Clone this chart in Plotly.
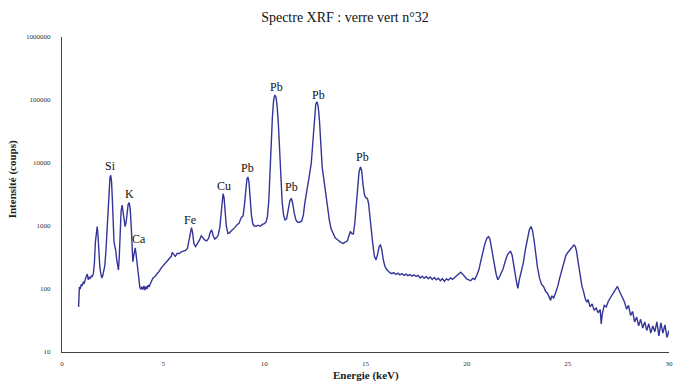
import math
import plotly.graph_objects as go

# Spectrum: energy (keV) and counts
energy_kev = [
    0.82, 0.84, 0.86, 0.90, 0.95, 1.00, 1.05, 1.10, 1.15, 1.20, 1.25, 1.30, 1.35, 1.40, 1.45, 1.50,
    1.55, 1.60, 1.65, 1.70, 1.74, 1.78, 1.82, 1.87, 1.92, 1.97, 2.02, 2.07, 2.12, 2.17, 2.22, 2.27,
    2.32, 2.37, 2.41, 2.45, 2.49, 2.53, 2.57, 2.61, 2.65, 2.70, 2.75, 2.79, 2.83, 2.87, 2.92, 2.97,
    3.02, 3.07, 3.12, 3.17, 3.22, 3.27, 3.32, 3.37, 3.42, 3.46, 3.50, 3.54, 3.58, 3.62, 3.66, 3.70,
    3.75, 3.80, 3.85, 3.90, 3.95, 4.00, 4.05, 4.10, 4.15, 4.20, 4.25, 4.30, 4.35,
    4.4, 4.5, 4.6, 4.7, 4.8, 4.9, 5.0, 5.1, 5.2, 5.3, 5.4, 5.45, 5.5, 5.6, 5.7, 5.8, 5.9, 6.0,
    6.1, 6.2, 6.28, 6.35, 6.4, 6.45, 6.52, 6.6, 6.7, 6.8, 6.88, 6.95, 7.05, 7.15, 7.25, 7.33,
    7.4, 7.47, 7.55, 7.65, 7.72, 7.8, 7.86, 7.91, 7.96, 8.01, 8.06, 8.12, 8.2, 8.28, 8.36, 8.45,
    8.55, 8.65, 8.75, 8.85, 8.95, 9.02, 9.08, 9.14, 9.19, 9.24, 9.3, 9.36, 9.43, 9.5, 9.6, 9.7,
    9.8, 9.9, 10.0, 10.08, 10.15, 10.22, 10.28, 10.34, 10.4, 10.46, 10.52, 10.58, 10.64, 10.7,
    10.76, 10.82, 10.88, 10.95, 11.02, 11.1, 11.18, 11.26, 11.33, 11.4, 11.48, 11.56, 11.65,
    11.75, 11.85, 11.93, 12.0, 12.08, 12.16, 12.24, 12.32, 12.4, 12.47, 12.54, 12.6, 12.66,
    12.72, 12.79, 12.86, 12.92, 12.98, 13.06, 13.14, 13.22, 13.3, 13.4, 13.5, 13.6, 13.7, 13.8,
    13.9, 14.0, 14.1, 14.18, 14.25, 14.32, 14.4, 14.47, 14.54, 14.61, 14.68, 14.75, 14.81,
    14.88, 14.95, 15.02, 15.09, 15.15, 15.22, 15.28, 15.36, 15.44, 15.52, 15.6, 15.68, 15.74,
    15.8, 15.88, 15.96, 16.04, 16.12, 16.2,
    16.3, 16.4, 16.5, 16.6, 16.7, 16.8, 16.9, 17.0, 17.1, 17.2, 17.3, 17.4, 17.5, 17.6, 17.7,
    17.8, 17.9, 18.0, 18.1, 18.2, 18.3, 18.4, 18.5, 18.6, 18.7, 18.8, 18.9, 19.0, 19.1, 19.2,
    19.3, 19.4, 19.5, 19.6, 19.7, 19.8, 19.9, 20.0, 20.1, 20.2, 20.3, 20.4, 20.5, 20.6, 20.7,
    20.8, 20.9, 21.0, 21.08, 21.15, 21.22, 21.3, 21.38, 21.46, 21.54, 21.62, 21.7, 21.8, 21.9,
    22.0, 22.1, 22.17, 22.25, 22.33, 22.41, 22.48, 22.53, 22.6, 22.7, 22.8, 22.9, 23.0, 23.1,
    23.18, 23.25, 23.33, 23.41, 23.5, 23.6, 23.7, 23.8, 23.9, 24.0, 24.1, 24.15, 24.2, 24.3,
    24.4, 24.5, 24.6, 24.7, 24.8, 24.9, 25.0, 25.1, 25.2, 25.3, 25.36, 25.43, 25.5, 25.56,
    25.62, 25.7, 25.78, 25.86, 25.94, 26.0, 26.1, 26.2, 26.3, 26.4, 26.5, 26.6, 26.65, 26.7,
    26.8, 26.9, 27.0, 27.1, 27.2, 27.3, 27.4, 27.45, 27.5, 27.6, 27.7, 27.8, 27.9, 28.0, 28.1,
    28.2, 28.3, 28.4, 28.5, 28.6, 28.7, 28.8, 28.9, 29.0, 29.1, 29.2, 29.3, 29.4, 29.5, 29.6,
    29.7, 29.8, 29.9, 30.0,
]

counts = [
    52, 95, 108, 100, 118, 112, 130, 125, 150, 160, 172, 140, 155, 148, 160, 158,
    175, 250, 560, 920, 980, 700, 380, 220, 175, 150, 165, 210, 240, 400, 900, 1800,
    3600, 5800, 6400, 5000, 2600, 1000, 560, 480, 420, 300, 230, 200, 320, 800, 1700, 2150,
    1700, 1150, 980, 1150, 1700, 2200, 2350, 1900, 1000, 560, 270, 330, 440, 450, 360, 280,
    190, 130, 105, 100, 108, 98, 112, 96, 110, 100, 115, 108, 122,
    128, 150, 158, 175, 190, 215, 235, 255, 270, 300, 330, 380, 360, 330, 370, 365, 390, 395,
    410, 440, 600, 880, 940, 800, 520, 470, 520, 600, 700, 650, 600, 580, 640, 800,
    870, 700, 620, 660, 720, 950, 1700, 2700, 3250, 2800, 1700, 1000, 760, 780, 830, 880,
    950, 1050, 1100, 1350, 1450, 2200, 3800, 5600, 6000, 5000, 2800, 1500, 1080, 1000, 990, 1030,
    990, 1060, 1090, 1150, 1400, 2500, 7000, 22000, 55000, 100000, 120000, 110000, 75000, 38000,
    14000, 5000, 2400, 1500, 1250, 1300, 1700, 2500, 2750, 2300, 1600, 1250, 1150,
    1150, 1200, 1500, 2300, 3500, 5000, 6800, 10000, 22000, 50000, 85000, 94000, 80000,
    50000, 20000, 8500, 6200, 4500, 2800, 1700, 1200, 900, 740, 650, 610, 570, 545,
    530, 555, 580, 700, 820, 760, 750, 1100, 2000, 4200, 7200, 8700, 7500,
    4500, 3100, 2800, 2750, 2300, 1300, 800, 520, 330, 290, 360, 480, 500,
    430, 290, 230, 205, 190, 182,
    175, 182, 170, 178, 168, 176, 165, 172, 163, 170, 160, 168, 158, 164, 150,
    160, 148, 158, 145, 155, 142, 152, 140, 148, 135, 146, 132, 145, 138, 150,
    142, 152, 160, 175, 185, 172, 158, 145, 140, 136, 148, 142, 165, 200, 280,
    400, 520, 640, 680, 620, 480, 330, 235, 170, 140, 155, 175, 210, 270,
    340, 380, 395, 340, 250, 165, 120, 102, 140, 190, 260, 420, 650, 880,
    980, 860, 600, 360, 220, 150, 118, 110, 92, 85, 70, 66, 78, 72,
    88, 110, 150, 200, 270, 340, 380, 420, 470, 500, 480, 400, 280, 200,
    150, 110, 90, 70, 62, 68, 52, 58, 46, 50, 42, 47, 28, 40,
    55, 52, 64, 72, 85, 92, 105, 110, 100, 85, 70, 62, 48, 55, 38,
    44, 30, 36, 26, 33, 24, 30, 22, 28, 20, 26, 21, 30, 18, 29,
    20, 27, 17, 22,
]

# Peak labels
label_text = ["Si", "K", "Ca", "Fe", "Cu", "Pb", "Pb", "Pb", "Pb", "Pb"]
label_energy = [2.38, 3.33, 3.80, 6.31, 8.00, 9.16, 10.58, 11.36, 12.67, 14.83]
label_counts = [9000, 3200, 620, 1260, 4300, 8300, 162000, 4200, 120000, 12600]

x_ticks = [0, 5, 10, 15, 20, 25, 30]
y_ticks = [10, 100, 1000, 10000, 100000, 1000000]
y_tick_text = ["10", "100", "1000", "10000", "100000", "1000000"]

SERIF = "Liberation Serif, Times New Roman, serif"

fig = go.Figure()
fig.add_trace(go.Scatter(
    x=energy_kev, y=counts, mode="lines",
    line=dict(color="#34359a", width=1.4),
    showlegend=False, hoverinfo="skip",
))

for t, e, c in zip(label_text, label_energy, label_counts):
    fig.add_annotation(x=e, y=math.log10(c), text=t, showarrow=False,
                       font=dict(family=SERIF, size=12, color="#111"),
                       xanchor="center", yanchor="middle")

fig.add_annotation(xref="paper", yref="paper", x=-0.082, y=0.549,
                   text="<b>Intensité (coups)</b>", textangle=-90, showarrow=False,
                   font=dict(family=SERIF, size=11, color="#222"),
                   xanchor="center", yanchor="middle")
fig.add_annotation(xref="paper", yref="paper", x=0.501, y=-0.076,
                   text="<b>Energie (keV)</b>", showarrow=False,
                   font=dict(family=SERIF, size=11, color="#222"),
                   xanchor="center", yanchor="middle")

fig.update_layout(
    width=678, height=381,
    margin=dict(l=62, r=5, t=37, b=29),
    paper_bgcolor="white", plot_bgcolor="white",
    hovermode=False,
    title=dict(text="Spectre XRF : verre vert n°32", x=(345 / 678), xanchor="center",
               y=1 - 17 / 381, yanchor="middle",
               font=dict(family=SERIF, size=14, color="#111")),
    xaxis=dict(range=[0, 30], tickvals=x_ticks, showgrid=False, zeroline=False,
               showline=True, linecolor="#444", linewidth=1,
               tickfont=dict(family=SERIF, size=7, color="#333"),
               ticks="", ticklabelstandoff=5),
    yaxis=dict(type="log", range=[1, 6], tickvals=y_ticks, ticktext=y_tick_text,
               showgrid=False, zeroline=False,
               showline=True, linecolor="#444", linewidth=1,
               tickfont=dict(family=SERIF, size=7, color="#333"),
               ticks="", ticklabelstandoff=9),
)

fig.write_html("out.html", config={"displayModeBar": False},
               post_script="document.body.style.margin='0';")
